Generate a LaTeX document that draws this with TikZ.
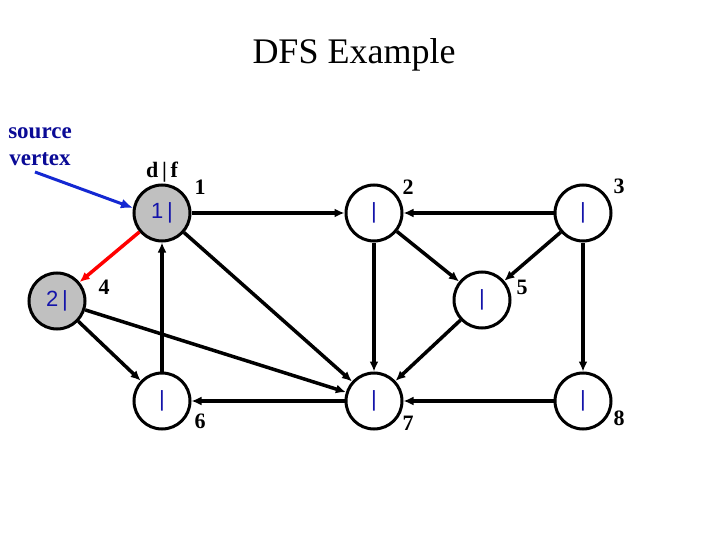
\documentclass[tikz,border=0pt]{standalone}
\usepackage{fontspec}
\setmainfont{Liberation Serif}
\setsansfont{Liberation Sans}
\usetikzlibrary{arrows.meta}
\definecolor{vgray}{RGB}{192,192,192}
\definecolor{txtblue}{RGB}{20,20,170}
\definecolor{srcblue}{RGB}{10,10,150}
\definecolor{ptrblue}{RGB}{20,40,210}
\begin{document}
\begin{tikzpicture}[x=1pt,y=-1pt]
	\def\toprow{213}
	\def\midrow{301}
	\def\botrow{401}

	\tikzset{
		vnode/.style={circle,draw=black,line width=3pt,fill=white,minimum size=56pt,inner sep=0pt,
			font=\sffamily\fontsize{22}{22}\selectfont,text=txtblue},
		visited/.style={vnode,fill=vgray},
		numlabel/.style={font=\bfseries\fontsize{22}{22}\selectfont},
		earrow/.style={-{Latex[length=10pt,width=9pt]},line width=3.5pt},
		tarrow/.style={earrow,red},
		sarrow/.style={-{Latex[length=12pt,width=10pt]},line width=3pt,ptrblue}
	}

	\useasboundingbox (0,0) rectangle (720,540);

	% title and source marker
	\node[font=\fontsize{36}{36}\selectfont] (title) at (354,55) {DFS Example};
	\node[font=\bfseries\fontsize{23}{27}\selectfont,text=srcblue,align=center] (src) at (40,147) {source\\vertex};
	\coordinate (srctail) at (35,172);

	% vertices
	\node[visited] (v1) at (162,\toprow) {1\,|};
	\node[vnode]   (v2) at (374,\toprow) {|};
	\node[vnode]   (v3) at (583,\toprow) {|};
	\node[visited] (v4) at (57,\midrow) {2\,|};
	\node[vnode]   (v5) at (482,300) {|};
	\node[vnode]   (v6) at (162,\botrow) {|};
	\node[vnode]   (v7) at (374,\botrow) {|};
	\node[vnode]   (v8) at (583,\botrow) {|};

	% labels
	\node[numlabel] (df) at (162,172) {d\,|\,f};
	\node[numlabel] (l1) at (200,187) {1};
	\node[numlabel] (l2) at (408,187) {2};
	\node[numlabel] (l3) at (619,186) {3};
	\node[numlabel] (l4) at (104,287) {4};
	\node[numlabel] (l5) at (522,287) {5};
	\node[numlabel] (l6) at (200,421) {6};
	\node[numlabel] (l7) at (408,423) {7};
	\node[numlabel] (l8) at (619,418) {8};

	% edges
	\draw[sarrow] (srctail) -- (v1.170);
	\draw[tarrow] (v1) -- (v4);
	\draw[earrow] (v1) -- (v2);
	\draw[earrow] (v3) -- (v2);
	\draw[earrow] (v6) -- (v1);
	\draw[earrow] (v1) -- (v7);
	\draw[earrow] (v4) -- (v6);
	\draw[earrow] (v4) -- (v7);
	\draw[earrow] (v2) -- (v7);
	\draw[earrow] (v2) -- (v5);
	\draw[earrow] (v3) -- (v5);
	\draw[earrow] (v5) -- (v7);
	\draw[earrow] (v3) -- (v8);
	\draw[earrow] (v7) -- (v6);
	\draw[earrow] (v8) -- (v7);
\end{tikzpicture}
\end{document}
